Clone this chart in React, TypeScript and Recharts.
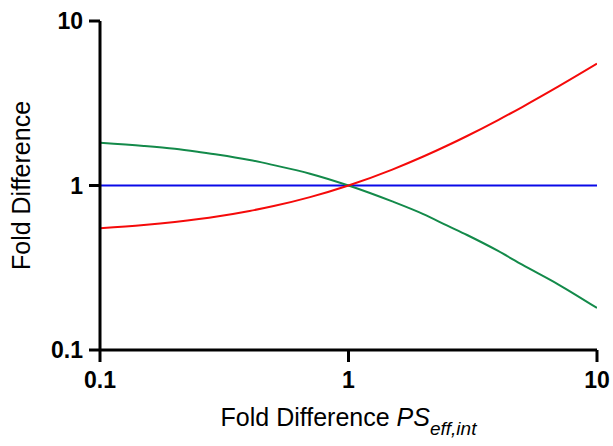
import React from 'react';
import { LineChart, Line, XAxis, YAxis } from 'recharts';

const foldPS = [0.1, 0.15, 0.2, 0.25, 0.3, 0.4, 0.5, 0.7, 1, 1.5, 2, 2.5, 3, 4, 5, 7, 10];
const redSeries = [0.55, 0.575, 0.6, 0.625, 0.65, 0.7, 0.75, 0.85, 1, 1.25, 1.5, 1.75, 2.0, 2.5, 3.0, 4.0, 5.5];
const greenSeries = [1.82, 1.74, 1.67, 1.6, 1.54, 1.43, 1.33, 1.18, 1, 0.8, 0.67, 0.57, 0.5, 0.4, 0.33, 0.25, 0.18];
const blueSeries = [1, 1, 1, 1, 1, 1, 1, 1, 1, 1, 1, 1, 1, 1, 1, 1, 1];

const xTicks = [0.1, 1, 10];
const yTicks = [0.1, 1, 10];

const data = foldPS.map((x, i) => ({
  x,
  red: redSeries[i],
  green: greenSeries[i],
  blue: blueSeries[i],
}));

const FONT = '"Liberation Sans", Arial, Helvetica, sans-serif';

const XTitle = (props: any) => {
  const { viewBox } = props;
  const cx = viewBox.x + viewBox.width / 2;
  return (
    <text x={cx} y={426} textAnchor="middle" fontSize={25} fill="#000" fontFamily={FONT}>
      <tspan>Fold Difference </tspan>
      <tspan fontStyle="italic">PS</tspan>
      <tspan fontStyle="italic" fontSize={19} dy={9}>eff,int</tspan>
    </text>
  );
};

const YTitle = (props: any) => {
  const { viewBox } = props;
  const cy = viewBox.y + viewBox.height / 2;
  return (
    <text x={30} y={cy} textAnchor="middle" fontSize={25} fill="#000" fontFamily={FONT}
      transform={`rotate(-90, 30, ${cy})`}>
      Fold Difference
    </text>
  );
};

const fmt = (v: number) => String(v);

export default function App() {
  return (
    <div style={{ position: 'absolute', left: 0, top: 0, background: '#fff' }}>
      <LineChart width={613} height={446} data={data}
        margin={{ top: 21, right: 16, bottom: 0, left: 0 }}
        style={{ fontFamily: FONT }}>
        <XAxis dataKey="x" type="number" scale="log" domain={[0.1, 10]} ticks={xTicks}
          allowDataOverflow tickFormatter={fmt} height={96}
          axisLine={{ stroke: '#000', strokeWidth: 3 }}
          tickLine={{ stroke: '#000', strokeWidth: 3 }} tickSize={12} tickMargin={10}
          tick={{ fill: '#000', fontSize: 23, fontWeight: 'bold' }}
          label={<XTitle />} />
        <YAxis type="number" scale="log" domain={[0.1, 10]} ticks={yTicks}
          allowDataOverflow tickFormatter={fmt} width={100}
          axisLine={{ stroke: '#000', strokeWidth: 3 }}
          tickLine={{ stroke: '#000', strokeWidth: 3 }} tickSize={11} tickMargin={6}
          tick={{ fill: '#000', fontSize: 23, fontWeight: 'bold' }}
          label={<YTitle />} />
        <Line dataKey="blue" stroke="#0a0ae8" strokeWidth={2} dot={false} type="monotone" isAnimationActive={false} />
        <Line dataKey="green" stroke="#138a4a" strokeWidth={2} dot={false} type="monotone" isAnimationActive={false} />
        <Line dataKey="red" stroke="#f50a0a" strokeWidth={2} dot={false} type="monotone" isAnimationActive={false} />
      </LineChart>
    </div>
  );
}
